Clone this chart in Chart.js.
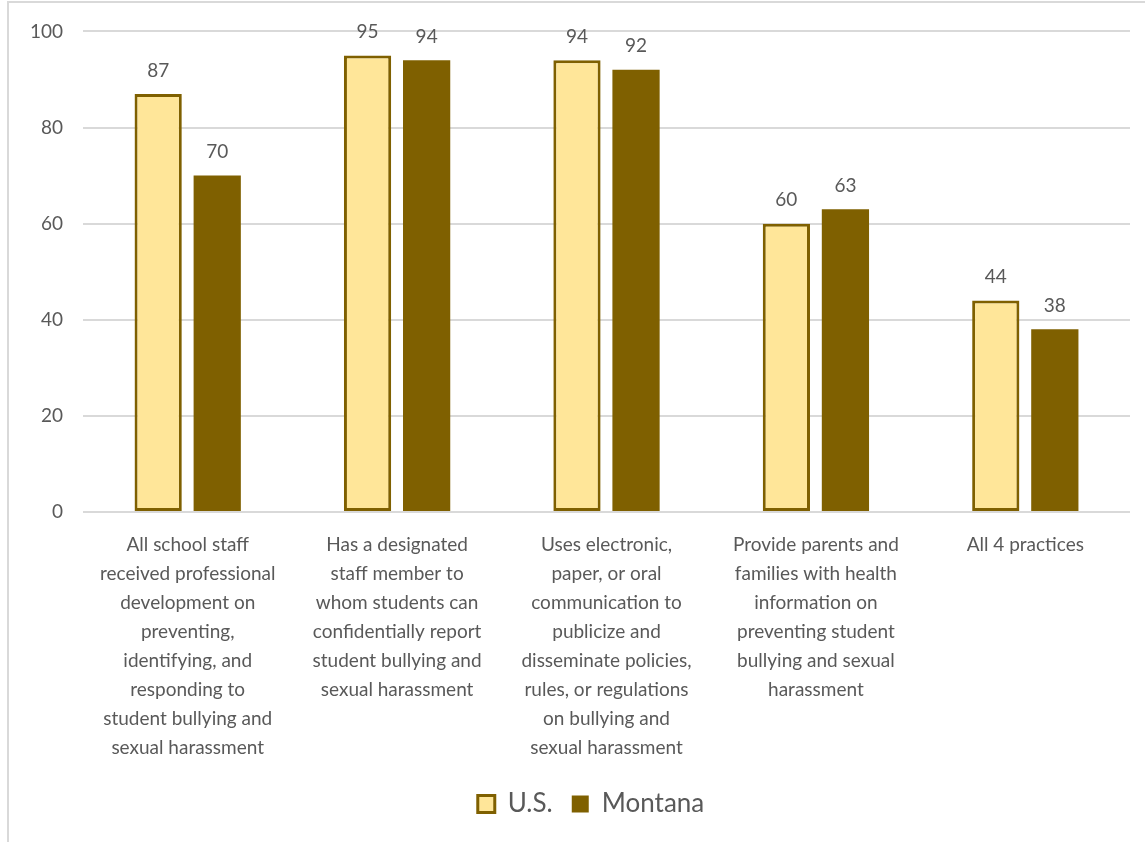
<!DOCTYPE html>
<html>
<head>
<meta charset="utf-8">
<script src="https://cdn.jsdelivr.net/npm/chart.js@4/dist/chart.umd.min.js"></script>
<style>
  html, body { margin: 0; padding: 0; background: #fff; }
  .chart-wrap {
    position: absolute; left: 7px; top: 1px; width: 1145px; height: 845px;
    border-left: 2px solid #d9d9d9; border-top: 2px solid #d9d9d9;
    box-sizing: border-box;
  }
  .chart-box { position: absolute; left: 0; top: 0; width: 1145px; height: 842px; }
</style>
</head>
<body>
<div class="chart-wrap"></div>
<div class="chart-box"><canvas id="practiceChart"></canvas></div>
<script>
const categoryLabels = [
  ['All school staff', 'received professional', 'development on', 'preventing,', 'identifying, and', 'responding to', 'student bullying and', 'sexual harassment'],
  ['Has a designated', 'staff member to', 'whom students can', 'confidentially report', 'student bullying and', 'sexual harassment'],
  ['Uses electronic,', 'paper, or oral', 'communication to', 'publicize and', 'disseminate policies,', 'rules, or regulations', 'on bullying and', 'sexual harassment'],
  ['Provide parents and', 'families with health', 'information on', 'preventing student', 'bullying and sexual', 'harassment'],
  ['All 4 practices']
];
const usValues = [87, 95, 94, 60, 44];
const montanaValues = [70, 94, 92, 63, 38];
const yTicks = [0, 20, 40, 60, 80, 100];

const textColor = '#595959';
const fontFamily = "Lato, 'Open Sans', sans-serif";

// draw the value above each bar
const valueLabels = {
  id: 'valueLabels',
  afterDatasetsDraw(chart) {
    const ctx = chart.ctx;
    ctx.save();
    ctx.fillStyle = textColor;
    ctx.font = `19px ${fontFamily}`;
    ctx.textAlign = 'center';
    ctx.textBaseline = 'bottom';
    chart.data.datasets.forEach((ds, i) => {
      chart.getDatasetMeta(i).data.forEach((bar, j) => {
        ctx.fillText(String(ds.data[j]), bar.x, bar.y - 14);
      });
    });
    ctx.restore();
  }
};

// legend in the reference sits a little right of the canvas centre
const legendShift = {
  id: 'legendShift',
  afterLayout(chart) {
    chart.legend.left += 16;
    chart.legend.right += 16;
  }
};

const ctx = document.getElementById('practiceChart');

new Chart(ctx, {
  type: 'bar',
  data: {
    labels: categoryLabels,
    datasets: [
      {
        label: 'U.S.',
        data: usValues,
        backgroundColor: '#FFE699',
        borderColor: '#7F6000',
        borderWidth: 3,
        borderSkipped: false
      },
      {
        label: 'Montana',
        data: montanaValues,
        backgroundColor: '#7F6000',
        borderColor: '#7F6000',
        borderWidth: 0
      }
    ]
  },
  options: {
    responsive: true,
    maintainAspectRatio: false,
    animation: false,
    categoryPercentage: 0.564,
    barPercentage: 0.8,
    layout: {
      padding: { left: 20, right: 15, top: 22, bottom: 15 }
    },
    plugins: {
      legend: {
        position: 'bottom',
        labels: {
          color: textColor,
          font: { family: fontFamily, size: 26 },
          boxWidth: 17,
          boxHeight: 17,
          padding: 19
        }
      },
      tooltip: { enabled: false }
    },
    scales: {
      x: {
        grid: { display: false },
        border: { display: false },
        ticks: {
          color: textColor,
          font: { family: fontFamily, size: 19, lineHeight: '29px' },
          maxRotation: 0,
          autoSkip: false,
          padding: 10
        }
      },
      y: {
        min: 0,
        max: 100,
        afterBuildTicks: scale => { scale.ticks = yTicks.map(v => ({ value: v })); },
        afterFit: scale => { scale.width = 63; },
        grid: { color: '#d9d9d9', lineWidth: 2, drawTicks: false },
        border: { display: false },
        ticks: {
          color: textColor,
          font: { family: fontFamily, size: 19 },
          padding: 20
        }
      }
    }
  },
  plugins: [valueLabels, legendShift]
});
</script>
</body>
</html>
